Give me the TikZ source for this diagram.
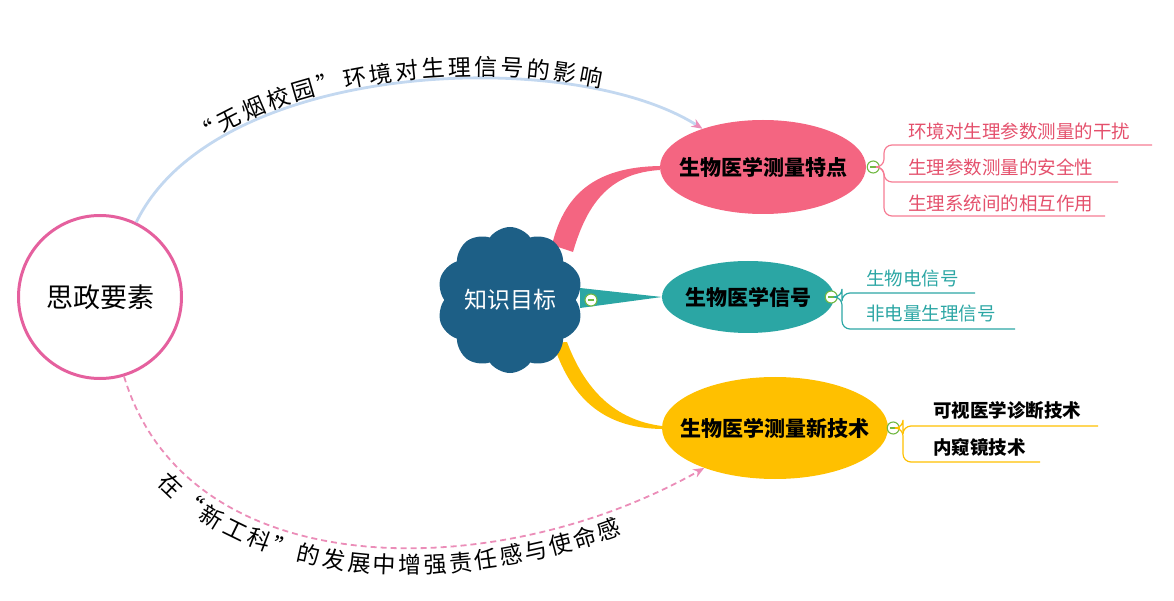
\documentclass[tikz,border=0pt]{standalone}
\usepackage{fontspec}
\setmainfont{Noto Sans CJK SC}
\usetikzlibrary{shapes.geometric,shapes.symbols,arrows.meta,decorations.text,calc}
\definecolor{cpink}{HTML}{F46581}
\definecolor{cteal}{HTML}{2BA6A4}
\definecolor{cyell}{HTML}{FFC000}
\definecolor{cblue}{HTML}{1D5F86}
\definecolor{cring}{HTML}{E5609E}
\definecolor{carcb}{HTML}{C3D8F0}
\definecolor{cdash}{HTML}{EB8DB8}
\definecolor{cgreen}{HTML}{72B944}
\definecolor{ctxtpink}{HTML}{E4506C}
\begin{document}
\begin{tikzpicture}[x=1pt,y=1pt,
  topic/.style={ellipse, inner sep=0pt, font=\bfseries\fontsize{21}{21}\selectfont},
  minus/.style={circle, draw=cgreen, line width=1.1pt, fill=white, minimum size=12pt, inner sep=0pt,
    path picture={\draw[cgreen, line width=1.4pt] ([xshift=-3pt]path picture bounding box.center) -- ([xshift=3pt]path picture bounding box.center);}},
  subtxt/.style={anchor=west, inner sep=0pt, font=\fontsize{18.5}{18.5}\selectfont},
  pline/.style={draw=cpink!85, line width=1.2pt, rounded corners=8pt},
  tline/.style={draw=cteal, line width=1.2pt, rounded corners=8pt},
  yline/.style={draw=cyell, line width=1.2pt, rounded corners=8pt},
]
\useasboundingbox (0,0) rectangle (1174,600);

% main nodes
\node[circle, draw=cring, line width=3pt, minimum size=163pt, inner sep=0pt,
  font=\fontsize{27}{27}\selectfont] (sz) at (100,303) {思政要素};

\coordinate (kc) at (510,300);
\node[topic, minimum width=206pt, minimum height=94pt] (pc) at (763,433) {};
\node[topic, minimum width=172pt, minimum height=72pt] (ts) at (748,303) {};
\node[topic, minimum width=226pt, minimum height=102pt] (ys) at (775,172) {};

% tapered branches
\fill[cpink] ($(kc)+(42,55)$) .. controls (565,410) and (600,433) .. ([yshift=1pt]pc.west)
  -- ([yshift=-3pt]pc.west) .. controls (612,427) and (588,400) .. ($(kc)+(63,48)$) -- cycle;
\fill[cteal] ($(kc)+(70,12)$) -- (ts.west) -- ($(kc)+(70,-8)$) -- cycle;
\fill[cyell] ($(kc)+(43,-43)$) .. controls (570,205) and (600,172) .. ([yshift=-1pt]ys.west)
  -- ([yshift=2pt]ys.west) .. controls (615,180) and (585,210) .. ($(kc)+(57,-42)$) -- cycle;

\node[cloud, cloud puffs=10, cloud puff arc=110, aspect=1, fill=cblue, minimum width=146pt,
  minimum height=146pt, inner sep=0pt, text=white, font=\fontsize{23}{23}\selectfont]
  (km) at (kc) {\makebox[0pt]{知识目标}};

\node[topic, fill=cpink, minimum width=206pt, minimum height=94pt] at (pc) {\makebox[0pt]{生物医学测量特点}};
\node[topic, fill=cteal, minimum width=172pt, minimum height=72pt] at (ts) {\makebox[0pt]{生物医学信号}};
\node[topic, fill=cyell, minimum width=226pt, minimum height=102pt] at (ys) {\makebox[0pt]{生物医学测量新技术}};

% collapse markers
\node[minus] (m0) at (591,300) {};
\node[minus] (m1) at ([xshift=7pt]pc.east) {};
\node[minus] (m2) at ([xshift=-3pt]ts.east) {};
\node[minus] (m3) at ([xshift=5pt]ys.east) {};

% pink subtopics
\coordinate (p1e) at (1152,455);
\coordinate (p2e) at (1118,418);
\coordinate (p3e) at (1105,384);
\draw[pline] (m1.east) -- (884,433) |- (p1e);
\draw[pline] (m1.east) -- (884,433) |- (p2e);
\draw[pline] (m1.east) -- (884,433) |- (p3e);
\node[subtxt, text=ctxtpink] (p1) at (908,469) {环境对生理参数测量的干扰};
\node[subtxt, text=ctxtpink] (p2) at (908,433) {生理参数测量的安全性};
\node[subtxt, text=ctxtpink] (p3) at (908,397) {生理系统间的相互作用};

% teal subtopics
\coordinate (t1e) at (975,307);
\coordinate (t2e) at (1015,271);
\draw[tline] (m2.east) -- (842,303) |- (t1e);
\draw[tline] (m2.east) -- (842,303) |- (t2e);
\node[subtxt, text=cteal] (t1) at (866,322) {生物电信号};
\node[subtxt, text=cteal] (t2) at (866,287) {非电量生理信号};

% yellow subtopics
\coordinate (y1e) at (1098,174);
\coordinate (y2e) at (1040,138);
\draw[yline] (m3.east) -- (903,172) |- (y1e);
\draw[yline] (m3.east) -- (903,172) |- (y2e);
\node[subtxt, font=\bfseries\fontsize{18.5}{18.5}\selectfont] (y1) at (933,190) {可视医学诊断技术};
\node[subtxt, font=\bfseries\fontsize{18.5}{18.5}\selectfont] (y2) at (933,153) {内窥镜技术};

% relation arcs
\draw[carcb, line width=2.8pt, -{Stealth[length=11pt,width=9pt,color=cdash]},
  postaction={decorate, decoration={text along path, raise=3pt, text color=black,
    text={|\fontsize{23}{23}\selectfont|“无烟校园”环境对生理信号的影响},
    text align={left indent=100pt, right indent=110pt, fit to path}}}]
  (sz) .. controls (215,540) and (570,555) .. (pc);

\draw[cdash, line width=1.8pt, dash pattern=on 6pt off 4pt, -{Stealth[length=11pt,width=9pt]},
  postaction={decorate, decoration={text along path, raise=-26pt, text color=black,
    text={|\fontsize{23}{23}\selectfont|在“新工科”的发展中增强责任感与使命感},
    text align={left indent=102pt, right indent=100pt, fit to path}}}]
  (sz) .. controls (188,12) and (497,15) .. (ys);
\end{tikzpicture}
\end{document}
